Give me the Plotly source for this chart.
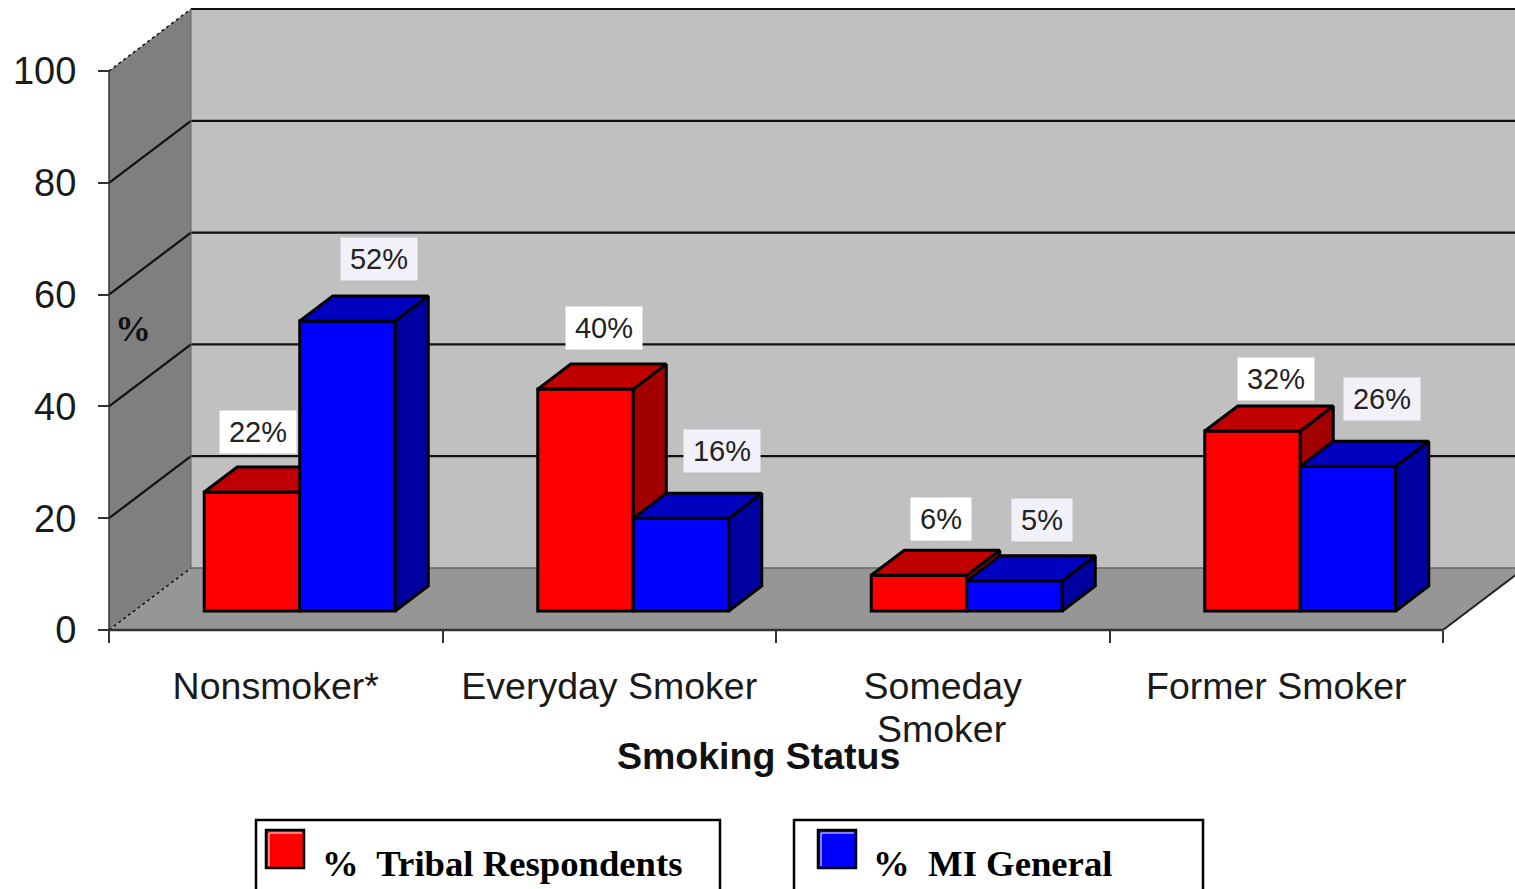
import plotly.graph_objects as go

categories = ["Nonsmoker*", "Everyday Smoker", "Someday", "Former Smoker"]
tribal = [21.3, 39.7, 6.4, 32.2]
mi_general = [51.9, 16.6, 5.4, 25.9]
tribal_labels = ["22%", "40%", "6%", "32%"]
general_labels = ["52%", "16%", "5%", "26%"]
y_ticks = [0, 20, 40, 60, 80, 100]

W, H = 1515, 889
x0_px, x_scale = 109, 333.5   # pixel of x=0, pixels per category
y0_px, y_scale = 630, 5.59    # pixel of y=0, pixels per percent
x_range = [-x0_px / x_scale, (W - x0_px) / x_scale]
y_range = [(y0_px - H) / y_scale, y0_px / y_scale]

# 3d look
wall_dx, wall_dy = 82 / x_scale, 62 / y_scale
bar_dx, bar_dy = 33 / x_scale, 25 / y_scale
floor_base = 19 / y_scale
bar_w = 95.5 / x_scale
group_shift = 0.572

tribal_x = [i + group_shift - bar_w / 2 for i in range(4)]
general_x = [i + group_shift + bar_w / 2 for i in range(4)]

BLACK = "#000000"
SANS = "Liberation Sans"
SERIF = "Liberation Serif"


def px_x(px):
    return px / W


def px_y(px):
    return 1 - px / H


def faces(xs, vals):
    # side and top parallelograms of each bar, gaps split the polygons
    side_x, side_y, top_x, top_y = [], [], [], []
    for x, v in zip(xs, vals):
        l, r, t = x - bar_w / 2, x + bar_w / 2, v + floor_base
        side_x += [r, r + bar_dx, r + bar_dx, r, r, None]
        side_y += [floor_base, floor_base + bar_dy, t + bar_dy, t, floor_base, None]
        top_x += [l, l + bar_dx, r + bar_dx, r, l, None]
        top_y += [t, t + bar_dy, t + bar_dy, t, t, None]
    return side_x, side_y, top_x, top_y


def add_series(fig, xs, vals, name, front, top, side, xa, ya):
    side_x, side_y, top_x, top_y = faces(xs, vals)
    fig.add_trace(go.Bar(x=xs, y=vals, base=floor_base, width=bar_w, name=name,
                         marker=dict(color=front, line=dict(color=BLACK, width=3)),
                         xaxis=xa, yaxis=ya))
    fig.add_trace(go.Scatter(x=side_x, y=side_y, mode="lines", fill="toself", fillcolor=side,
                             line=dict(color=BLACK, width=3), xaxis=xa, yaxis=ya, hoverinfo="skip"))
    fig.add_trace(go.Scatter(x=top_x, y=top_y, mode="lines", fill="toself", fillcolor=top,
                             line=dict(color=BLACK, width=3), xaxis=xa, yaxis=ya, hoverinfo="skip"))


def poly(pts, fill):
    path = "M " + " L ".join("{0} {1}".format(x, y) for x, y in pts) + " Z"
    return dict(type="path", path=path, xref="x", yref="y", fillcolor=fill,
                line=dict(width=0), layer="below")


def seg(x1, y1, x2, y2, color="#111111", width=2.2, dash="solid"):
    return dict(type="line", x0=x1, y0=y1, x1=x2, y1=y2, xref="x", yref="y", layer="below",
                line=dict(color=color, width=width, dash=dash))


def px_shape(kind, l, t, r, b, **kw):
    return dict(type=kind, xref="paper", yref="paper", x0=px_x(l), x1=px_x(r),
                y0=px_y(b), y1=px_y(t), **kw)


def px_text(x, y, text, family, size, color, xanchor="center"):
    return dict(x=px_x(x), y=px_y(y), xref="paper", yref="paper", text=text, showarrow=False,
                xanchor=xanchor, yanchor="middle", font=dict(family=family, size=size, color=color))


fig = go.Figure()
add_series(fig, tribal_x, tribal, "% Tribal Respondents", "#ff0000", "#c00000", "#a00000", "x", "y")
# blue goes on an overlaid axis pair so it paints over the red side faces
add_series(fig, general_x, mi_general, "% MI General", "#0000ff", "#0000c0", "#0000a0", "x2", "y2")

far_x = x_range[1] + 1
shapes = [
    poly([(wall_dx, wall_dy), (far_x, wall_dy), (far_x, 100 + wall_dy), (wall_dx, 100 + wall_dy)], "#c0c0c0"),
    poly([(0, 0), (wall_dx, wall_dy), (wall_dx, 100 + wall_dy), (0, 100)], "#7f7f7f"),
    poly([(0, 0), (wall_dx, wall_dy), (4 + wall_dx, wall_dy), (4, 0)], "#969696"),
]
for v in y_ticks[1:]:
    shapes.append(seg(wall_dx, v + wall_dy, far_x, v + wall_dy))
for v in y_ticks[1:-1]:
    shapes.append(seg(0, v, wall_dx, v + wall_dy))
shapes += [
    seg(0, 100, wall_dx, 100 + wall_dy, width=1.5, dash="dot"),
    seg(0, 0, wall_dx, wall_dy, width=1.5, dash="dot"),
    seg(wall_dx, wall_dy, far_x, wall_dy, color="#666666", width=1.5),
    seg(wall_dx, wall_dy, wall_dx, 100 + wall_dy, color="#666666", width=1),
    seg(0, 0, 0, 100, color="#333333", width=1.5),
    seg(0, 0, 4, 0, color="#333333", width=2.5),
    seg(4, 0, 4 + wall_dx, wall_dy, color="#222222", width=2),
]

# legend boxes, cut by the bottom of the page
for l, r, sw, col in [(256, 720, 266, "#ff0000"), (794, 1203, 818, "#0000ff")]:
    shapes.append(px_shape("rect", l, 820, r, 899, line=dict(color=BLACK, width=2.5), fillcolor="white"))
    shapes.append(px_shape("rect", sw, 830, sw + 38, 868, line=dict(color=BLACK, width=2.5), fillcolor=col))
    shapes.append(px_shape("line", sw + 3, 833, sw + 36, 833, line=dict(color="white", width=1)))
    shapes.append(px_shape("line", sw + 3, 833, sw + 3, 866, line=dict(color="white", width=1)))

annotations = []
tribal_off = [(6, 60), (18, 61), (22, 56), (23, 52)]
general_off = [(31, 62), (41, 67), (27, 61), (34, 67)]
for xs, vals, labels, offs, bg in [(tribal_x, tribal, tribal_labels, tribal_off, "#ffffff"),
                                   (general_x, mi_general, general_labels, general_off, "#f2f0f8")]:
    for x, v, lab, (sx, sy) in zip(xs, vals, labels, offs):
        annotations.append(dict(x=x, y=v + floor_base, xref="x", yref="y", text=lab, showarrow=False,
                                xshift=sx, yshift=sy, xanchor="center", yanchor="middle",
                                width=74 if len(lab) == 3 else 58, height=40, bgcolor=bg,
                                font=dict(family=SANS, size=29, color="#222222")))

annotations += [
    px_text(941, 729, "Smoker", SANS, 37.5, "#1a1a1a"),
    px_text(758, 756, "<b>Smoking Status</b>", SANS, 37.5, "#111111"),
    px_text(133, 329, "<b>%</b>", SERIF, 36, "#111111"),
    px_text(320, 863, "<b>%  Tribal Respondents</b>", SERIF, 36.7, BLACK, xanchor="left"),
    px_text(871, 863, "<b>%  MI General</b>", SERIF, 36.7, BLACK, xanchor="left"),
]

fig.update_layout(
    width=W, height=H,
    margin=dict(l=0, r=0, t=0, b=0),
    paper_bgcolor="white", plot_bgcolor="white",
    showlegend=False, shapes=shapes, annotations=annotations,
    xaxis=dict(range=x_range, domain=[0, 1], anchor="free", position=1 - y0_px / H,
               tickmode="array", tickvals=[i + 0.5 for i in range(4)], ticktext=categories,
               ticks="", showgrid=False, zeroline=False, showline=False, ticklabelstandoff=30,
               tickfont=dict(family=SANS, size=37.5, color="#1a1a1a"),
               minor=dict(tickmode="array", tickvals=[0, 1, 2, 3, 4], ticks="outside",
                          ticklen=12, tickwidth=1.5, tickcolor="#333333")),
    yaxis=dict(range=y_range, domain=[0, 1], anchor="free", position=x0_px / W,
               tickmode="array", tickvals=y_ticks, ticks="outside", ticklen=11, tickwidth=1.5,
               tickcolor="#333333", showgrid=False, zeroline=False, showline=False,
               ticklabelstandoff=14, tickfont=dict(family=SANS, size=38, color="#1a1a1a")),
    xaxis2=dict(range=x_range, overlaying="x", visible=False),
    yaxis2=dict(range=y_range, overlaying="y", visible=False),
)

# plotly's page keeps the default body margin, drop it so the figure fills the window
fig.write_html("out.html", config={"displayModeBar": False},
               post_script="document.body.style.margin = '0';")
